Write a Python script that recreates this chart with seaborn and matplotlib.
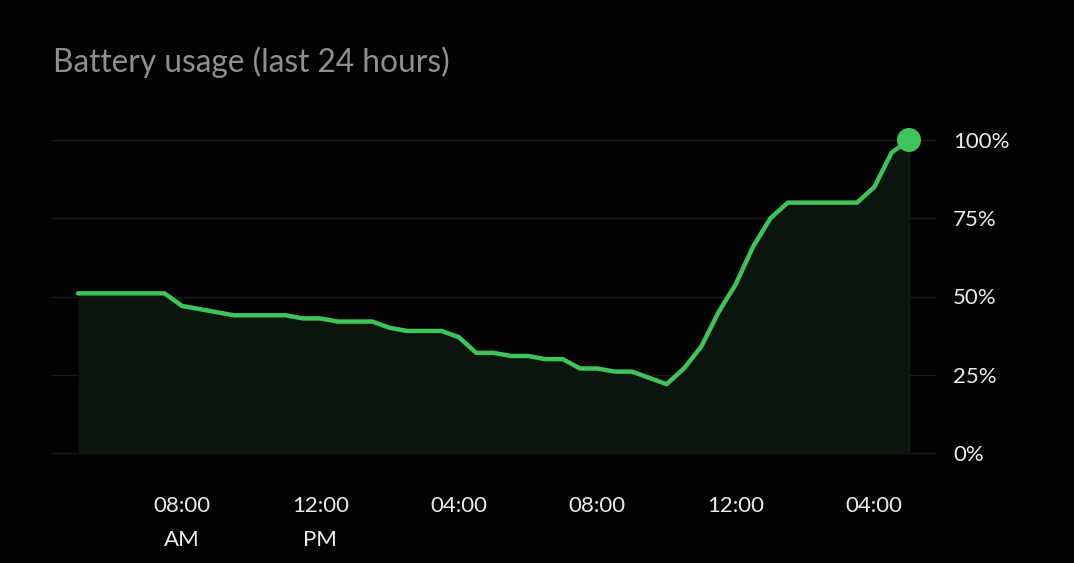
import matplotlib
matplotlib.use("Agg")
import matplotlib.pyplot as plt
import numpy as np
import pandas as pd
import seaborn as sns

# battery level sampled every 30 minutes, starting 05:00 AM
start_hour = 5.0
step_hours = 0.5
battery_pct = [
    51, 51, 51, 51, 51, 51, 47, 46, 45, 44,
    44, 44, 44, 43, 43, 42, 42, 42, 40, 39,
    39, 39, 37, 32, 32, 31, 31, 30, 30, 27,
    27, 26, 26, 24, 22, 27, 34, 45, 54, 66,
    75, 80, 80, 80, 80, 80, 85, 96, 100,
]
tick_hours = [8, 12, 16, 20, 24, 28]
tick_labels = ["08:00\nAM", "12:00\nPM", "04:00", "08:00", "12:00", "04:00"]
y_ticks = [0, 25, 50, 75, 100]
y_labels = ["0%", "25%", "50%", "75%", "100%"]

LINE = "#3ec45a"
FILL = "#0a160d"
GRID = "#1b1b1b"
BG = "#020202"

df = pd.DataFrame({
    "hour": start_hour + step_hours * np.arange(len(battery_pct)),
    "pct": battery_pct,
})

sns.set_theme(style="dark", rc={
    "figure.facecolor": BG,
    "axes.facecolor": BG,
    "axes.edgecolor": BG,
})
plt.rcParams["font.family"] = ["Lato", "DejaVu Sans"]

fig = plt.figure(figsize=(10.74, 5.63), dpi=100)
W, H = 1074, 563
# axes box in pixels: x 52..935, y 140..453
ax = fig.add_axes([52 / W, (H - 453) / H, (935 - 52) / W, (453 - 140) / H])

px_per_hour = (909 - 78) / 24.0
ax.set_xlim(start_hour - 26 / px_per_hour, 29 + 26 / px_per_hour)
ax.set_ylim(0, 100)

for y in y_ticks:
    ax.axhline(y, color=GRID, lw=1.0, zorder=0, clip_on=False)

ax.fill_between(df["hour"], 0, df["pct"], color=FILL, lw=0, zorder=1)
ax.axvline(df["hour"].iloc[-1], ymin=0, ymax=1, color="#0f2014", lw=1.2, zorder=1)
sns.lineplot(data=df, x="hour", y="pct", color=LINE, lw=3.2, ax=ax,
             zorder=3, clip_on=False)
last = df.iloc[[-1]]
sns.scatterplot(data=last, x="hour", y="pct", color=LINE, s=300, ax=ax,
                edgecolor="none", zorder=4, clip_on=False)

ax.set_xticks(tick_hours)
ax.set_xticklabels(tick_labels, color="#ececec", fontsize=16, linespacing=1.85)
ax.set_yticks(y_ticks)
ax.set_yticklabels(y_labels, color="#ececec", fontsize=16)
ax.yaxis.tick_right()
ax.tick_params(axis="x", length=0, pad=31)
ax.tick_params(axis="y", length=0, pad=13)
for lab in ax.get_yticklabels():
    lab.set_horizontalalignment("left")
ax.grid(False)
ax.set_xlabel("")
ax.set_ylabel("")
for s in ax.spines.values():
    s.set_visible(False)

fig.text(53 / W, 1 - 62 / H, "Battery usage (last 24 hours)", color="#8f8f8f",
         fontsize=22.8, ha="left", va="center")

fig.savefig("out.png", dpi=100, facecolor=BG)
